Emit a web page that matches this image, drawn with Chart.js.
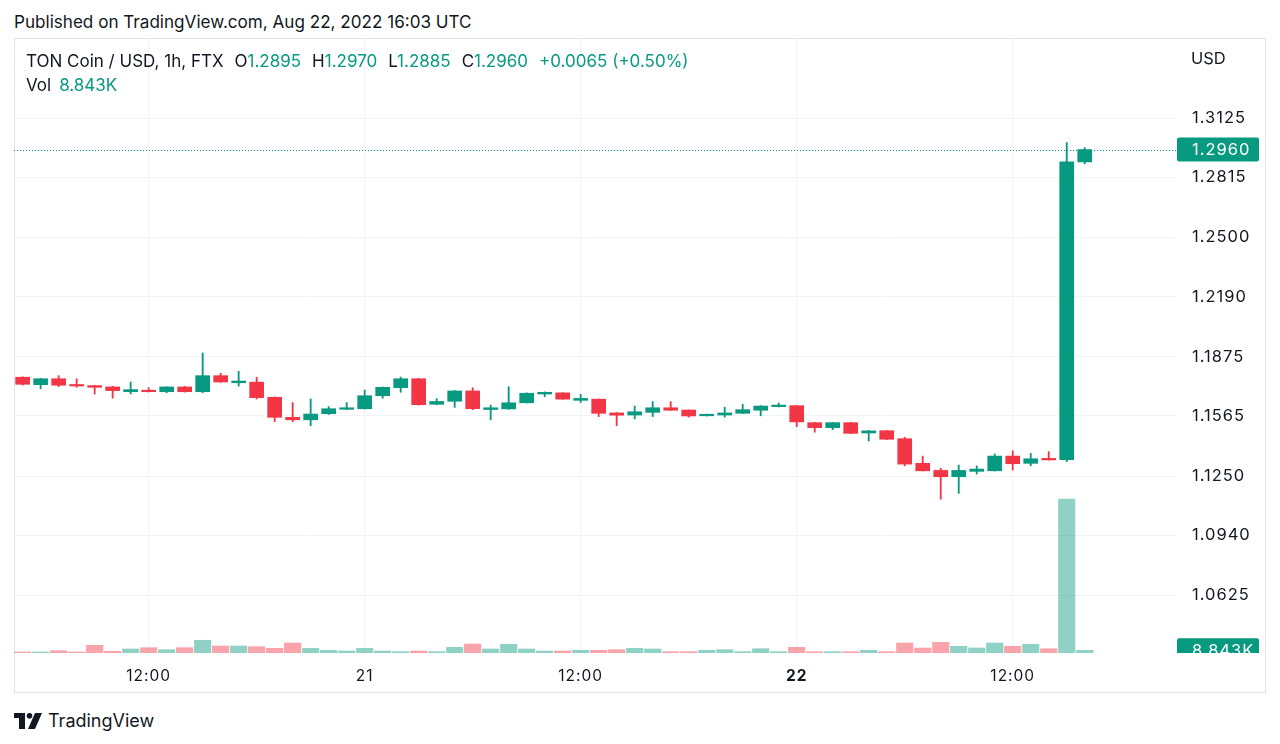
<!DOCTYPE html>
<html>
<head>
<meta charset="utf-8">
<script src="https://cdn.jsdelivr.net/npm/chart.js@4.4.0/dist/chart.umd.min.js"></script>
<style>
  body { margin: 0; background: #fff; width: 1280px; height: 744px; overflow: hidden; font-family: Inter, Roboto, sans-serif; color: #131722; }
  #pub { position: absolute; left: 14px; top: 11px; font-size: 17.1px; }
  #frame { position: absolute; left: 14px; top: 38px; width: 1252px; height: 655px; border: 1px solid #e0e3eb; box-sizing: border-box; }
  #wrap { position: absolute; left: 14px; top: 38px; width: 1251px; height: 654px; }
  #legend { position: absolute; left: 26px; top: 51px; font-size: 17px; line-height: 20px; }
  #legend .g { color: #089981; }
  #legend .k { margin-left: 11px; }
  #vol { position: absolute; left: 26px; top: 75px; font-size: 17px; line-height: 20px; }
  #vol .g { color: #089981; margin-left: 8px; }
  #usd { position: absolute; left: 1191px; top: 48px; font-size: 16.5px; line-height: 20px; }
  #logo { position: absolute; left: 14px; top: 710px; display: flex; align-items: center; }
  #logo span { font-size: 18px; margin-left: 6px; }
</style>
</head>
<body>
<div id="pub">Published on TradingView.com, Aug 22, 2022 16:03 UTC</div>
<div id="frame"></div>
<div id="wrap"><canvas id="myChart" width="1251" height="654"></canvas></div>
<div id="legend">TON Coin / USD, 1h, FTX<span class="k">O</span><span class="g">1.2895</span><span class="k">H</span><span class="g">1.2970</span><span class="k">L</span><span class="g">1.2885</span><span class="k">C</span><span class="g">1.2960</span><span class="k g">+0.0065 (+0.50%)</span></div>
<div id="vol">Vol<span class="g">8.843K</span></div>
<div id="usd">USD</div>
<div id="logo">
  <svg width="28" height="16" viewBox="0 0 28 16">
    <path d="M0 0 H11 V16 H5 V5 H0 Z" fill="#131722"/>
    <circle cx="15.5" cy="2.8" r="2.8" fill="#131722"/>
    <path d="M21 0 H28 L21 16 H14 Z" fill="#131722"/>
  </svg>
  <span>TradingView</span>
</div>

<script>
// hourly candles, Aug 20 05:00 -> Aug 22 16:00 (UTC)
const opens = [1.1768,1.1729,1.1760,1.1729,1.1724,1.1717,1.1692,1.1700,1.1692,1.1717,
  1.1692,1.1776,1.1739,1.1742,1.1663,1.1558,1.1545,1.1577,1.1600,1.1603,
  1.1671,1.1713,1.1760,1.1626,1.1642,1.1696,1.1599,1.1602,1.1634,1.1680,
  1.1686,1.1647,1.1653,1.1581,1.1570,1.1584,1.1608,1.1596,1.1566,1.1570,
  1.1579,1.1595,1.1614,1.1619,1.1530,1.1504,1.1530,1.1476,1.1488,1.1446,
  1.1317,1.1280,1.1247,1.1275,1.1278,1.1355,1.1317,1.1343,1.1336,1.2895];
const closes = [1.1731,1.1760,1.1726,1.1722,1.1715,1.1698,1.1703,1.1692,1.1717,1.1692,
  1.1776,1.1743,1.1748,1.1661,1.1558,1.1545,1.1575,1.1603,1.1608,1.1671,
  1.1715,1.1760,1.1624,1.1641,1.1696,1.1603,1.1608,1.1634,1.1684,1.1689,
  1.1653,1.1657,1.1579,1.1569,1.1587,1.1608,1.1595,1.1565,1.1574,1.1581,
  1.1598,1.1617,1.1622,1.1534,1.1504,1.1530,1.1474,1.1487,1.1443,1.1313,
  1.1278,1.1247,1.1280,1.1287,1.1355,1.1315,1.1341,1.1335,1.2895,1.2960];
const highs = [1.1770,1.1762,1.1776,1.1760,1.1726,1.1721,1.1743,1.1713,1.1718,1.1720,
  1.1895,1.1789,1.1799,1.1768,1.1665,1.1635,1.1654,1.1614,1.1635,1.1701,
  1.1717,1.1769,1.1762,1.1656,1.1699,1.1713,1.1622,1.1718,1.1686,1.1691,
  1.1687,1.1678,1.1654,1.1582,1.1617,1.1640,1.1640,1.1597,1.1575,1.1611,
  1.1626,1.1619,1.1633,1.1620,1.1532,1.1532,1.1532,1.1489,1.1489,1.1453,
  1.1355,1.1291,1.1308,1.1304,1.1366,1.1383,1.1369,1.1378,1.2996,1.2970];
const lows = [1.1727,1.1707,1.1719,1.1715,1.1680,1.1658,1.1680,1.1691,1.1687,1.1690,
  1.1687,1.1741,1.1721,1.1654,1.1535,1.1535,1.1514,1.1573,1.1599,1.1601,
  1.1658,1.1689,1.1622,1.1624,1.1610,1.1598,1.1545,1.1600,1.1633,1.1666,
  1.1652,1.1635,1.1562,1.1514,1.1550,1.1562,1.1594,1.1559,1.1565,1.1559,
  1.1578,1.1566,1.1612,1.1509,1.1480,1.1493,1.1473,1.1434,1.1442,1.1304,
  1.1277,1.1129,1.1160,1.1261,1.1277,1.1282,1.1304,1.1334,1.1326,1.2885];
// volume in K
const volumes = [3.3,3.3,7.5,3.3,25.2,5.6,13.1,17.4,10.8,17.4,
  41.6,22.9,22.9,20.6,15.4,32.8,15.4,8.8,6.6,15.4,
  6.6,4.3,6.6,4.3,18.7,29.5,13.1,28.5,13.1,6.6,
  6.6,8.8,8.8,10.8,15.4,13.1,4.3,4.3,8.8,10.8,
  4.3,14.1,4.3,18.7,4.3,4.3,4.3,8.8,4.3,32.8,
  16.4,35.0,21.9,16.4,32.8,21.9,28.5,14.1,504.4,8.843];

const timeTickIdx = [7, 19, 31, 43, 55];
const timeTickLabels = ['12:00', '21', '12:00', '22', '12:00'];
const priceTicks = [1.3125, 1.2815, 1.2500, 1.2190, 1.1875, 1.1565, 1.1250, 1.0940, 1.0625];
const lastPrice = 1.2960;
const lastVolume = 8.843;
const lastVolumeLabel = '8.843K';

const UP = '#089981', DOWN = '#f23645';
const UP_V = 'rgba(8,153,129,0.45)', DOWN_V = 'rgba(242,54,69,0.45)';
const FONT = 'Inter, Roboto, sans-serif';

const isUp = i => closes[i] >= opens[i];
const candleColors = opens.map((o, i) => isUp(i) ? UP : DOWN);
const volColors = opens.map((o, i) => isUp(i) ? UP_V : DOWN_V);

const bodies = opens.map((o, i) => ({ x: i, y: [o, closes[i]] }));
const wicks = opens.map((o, i) => ({ x: i, y: [lows[i], highs[i]] }));
const vols = volumes.map((v, i) => ({ x: i, y: v }));

function drawTag(ctx, area, y, text, clipBottom) {
    ctx.save();
    if (clipBottom) {
        ctx.beginPath();
        ctx.rect(area.right, 0, 200, area.bottom);
        ctx.clip();
    }
    ctx.fillStyle = UP;
    ctx.beginPath();
    ctx.roundRect(area.right + 1, y - 12, 82, 24, 2);
    ctx.fill();
    ctx.fillStyle = '#fff';
    ctx.font = '16.5px ' + FONT;
    ctx.textBaseline = 'middle';
    ctx.fillText(text, area.right + 16, y + 1);
    ctx.restore();
}

const lastPricePlugin = {
    id: 'lastPrice',
    beforeDraw(chart) {
        chart.ctx.letterSpacing = '1px';
    },
    afterDatasetsDraw(chart) {
        const ctx = chart.ctx, area = chart.chartArea;
        const y = chart.scales.y.getPixelForValue(lastPrice);
        ctx.save();
        ctx.strokeStyle = UP;
        ctx.lineWidth = 1;
        ctx.setLineDash([1, 2]);
        ctx.beginPath();
        ctx.moveTo(area.left, Math.round(y) + 0.5);
        ctx.lineTo(area.right, Math.round(y) + 0.5);
        ctx.stroke();
        ctx.restore();
    },
    afterDraw(chart) {
        const ctx = chart.ctx, area = chart.chartArea;
        drawTag(ctx, area, chart.scales.y.getPixelForValue(lastPrice), lastPrice.toFixed(4), false);
        drawTag(ctx, area, chart.scales.yv.getPixelForValue(lastVolume), lastVolumeLabel, true);
    }
};

const ctx = document.getElementById('myChart').getContext('2d');
const myChart = new Chart(ctx, {
    type: 'bar',
    data: {
        datasets: [
            { data: bodies, backgroundColor: candleColors, barThickness: 14, minBarLength: 1.5, yAxisID: 'y', grouped: false },
            { data: wicks, backgroundColor: candleColors, barThickness: 1.2, yAxisID: 'y', grouped: false },
            { data: vols, backgroundColor: volColors, barThickness: 16.5, yAxisID: 'yv', grouped: false }
        ]
    },
    options: {
        responsive: false,
        animation: false,
        layout: { padding: 0 },
        plugins: { legend: { display: false }, tooltip: { enabled: false } },
        scales: {
            x: {
                type: 'linear',
                min: -0.48,
                max: 64.07,
                offset: false,
                grid: { color: '#f0f3fa', drawTicks: false, offset: false },
                border: { display: false },
                afterBuildTicks: s => { s.ticks = timeTickIdx.map(v => ({ value: v })); },
                ticks: {
                    autoSkip: false,
                    maxRotation: 0,
                    padding: 14,
                    color: '#131722',
                    font: c => ({ family: FONT, size: 15.5, weight: (c.tick && c.tick.value === 43) ? 'bold' : 'normal' }),
                    callback: v => timeTickLabels[timeTickIdx.indexOf(v)]
                },
                afterFit: s => { s.height = 39; s.paddingLeft = 0; s.paddingRight = 0; }
            },
            y: {
                position: 'right',
                min: 1.0324,
                max: 1.3544,
                grid: { color: '#f0f3fa', drawTicks: false },
                border: { display: false },
                afterBuildTicks: s => { s.ticks = priceTicks.map(v => ({ value: v })); },
                ticks: {
                    padding: 16,
                    color: '#131722',
                    font: { family: FONT, size: 16.5 },
                    callback: v => v.toFixed(4)
                },
                afterFit: s => { s.width = 89; s.paddingTop = 0; s.paddingBottom = 0; }
            },
            yv: { display: false, min: 0, max: 2014 }
        }
    },
    plugins: [lastPricePlugin]
});
</script>
</body>
</html>
